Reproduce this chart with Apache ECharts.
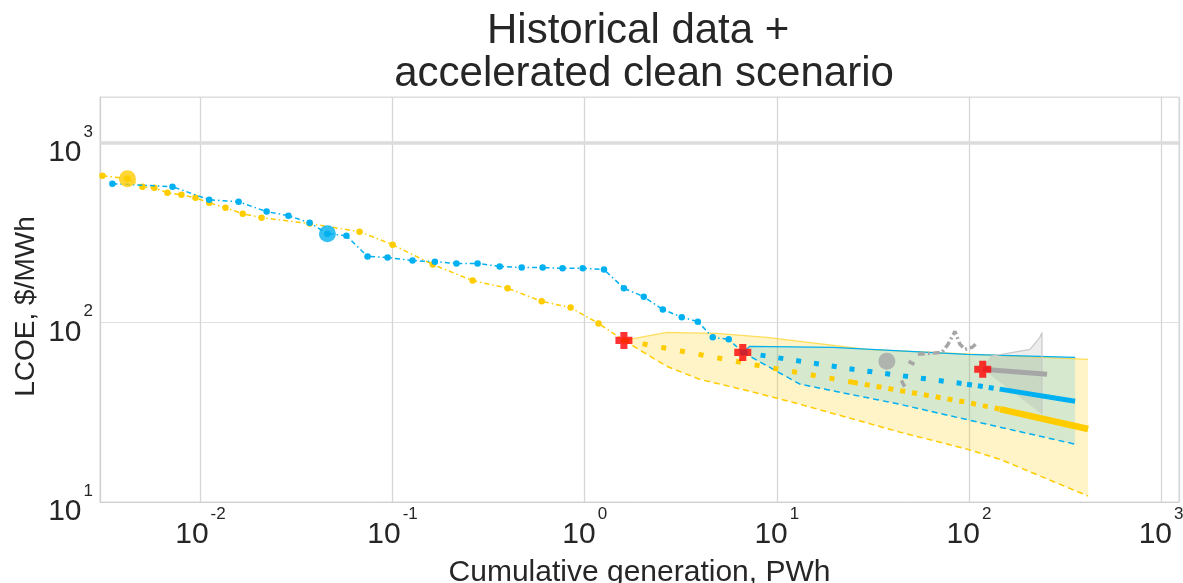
<!DOCTYPE html>
<html><head><meta charset="utf-8">
<script src="https://cdn.jsdelivr.net/npm/echarts@6/dist/echarts.min.js"></script>
<style>html,body{margin:0;padding:0;background:#fff}#c{width:1183px;height:583px}</style>
</head><body><div id="c"></div>
<script>
// ---- Historical data ----
const histYellowX = [0.00309, 0.00417, 0.00499, 0.00575, 0.00673, 0.00796, 0.00942, 0.0111, 0.0135, 0.0166, 0.0208, 0.0370, 0.0673, 0.100, 0.162, 0.261, 0.397, 0.597, 0.845, 1.18, 1.60];
const histYellowY = [656, 631, 570, 562, 527, 514, 494, 464, 435, 403, 383, 355, 320, 271, 210, 171, 155, 131, 121, 98.7, 79.4];
const histBlueX = [0.00348, 0.00715, 0.0111, 0.0158, 0.0221, 0.0287, 0.0370, 0.0458, 0.0575, 0.0741, 0.0942, 0.127, 0.166, 0.215, 0.277, 0.361, 0.470, 0.604, 0.767, 0.977, 1.26, 1.60, 2.03, 2.55, 3.20, 3.88, 4.64, 5.62, 6.65];
const histBlueY = [592, 570, 482, 470, 414, 393, 359, 312, 304, 233, 230, 221, 218, 213, 213, 205, 202, 202, 200, 200, 197, 155, 139, 118, 107, 101, 82.6, 80.5, 68.1];
const startX = [0.00417, 0.0458, 37.4];
const startY = [631, 312, 60.7];
const startColors = ['#FFCC00', '#00B0F0', '#A6A6A6'];
// gray historical pieces
const grayZigX = [54.2, 72.3, 77.8, 84.6, 89.8, 95.3, 104, 111];
const grayZigY = [66.4, 68.1, 75.5, 89.1, 75.5, 70.8, 72.7, 77.4];
const grayDashX = [48.5, 52.0, null, 44.5, 46.5];
const grayDashY = [60.7, 58.4, null, 47.5, 43.5];
const grayThickX = [118, 255];
const grayThickY = [54.8, 51.4];
const grayBandX = [118, 129, 208, 234, 240, 240];
const grayBandY = [54.8, 64.7, 70.8, 82.6, 88.0, 30.8];
// ---- Scenario ----
const redX = [1.60, 6.65, 118];
const redY = [79.4, 68.1, 54.8];
const medYellowX = [1.60, 7.41, 24.9, 97.7, 145, 417];
const medYellowY = [79.4, 58.4, 46.4, 35.9, 32.9, 25.5];
const medBlueX = [6.65, 24.9, 97.7, 145, 357];
const medBlueY = [68.1, 54.8, 45.3, 42.5, 36.4];
const bandYUpperX = [1.60, 2.67, 4.87, 8.87, 29.4, 417];
const bandYUpperY = [79.4, 88.0, 86.9, 82.6, 70.8, 62.3];
const bandYLowerX = [1.60, 2.67, 3.97, 7.23, 13.2, 43.7, 97.7, 145, 417];
const bandYLowerY = [79.4, 57.0, 48.2, 41.4, 35.0, 24.5, 19.7, 17.3, 10.8];
const bandBUpperX = [6.65, 7.23, 19.6, 97.7, 357];
const bandBUpperY = [68.1, 73.6, 72.7, 66.4, 63.9];
const bandBLowerX = [6.65, 13.2, 43.7, 145, 357];
const bandBLowerY = [68.1, 45.3, 35.0, 26.1, 21.0];

const YEL = '#FFCC00', BLU = '#00B0F0', GRY = '#A6A6A6';
const FONT = 'Liberation Sans, Arial, sans-serif';
const pairs = (xs, ys) => xs.map((x, i) => (x === null ? [null, null] : [x, ys[i]]));
const seg = (xs, ys, a, b) => pairs(xs.slice(a, b + 1), ys.slice(a, b + 1));

function polygonSeries(xs, ys, fill, z) {
  const data = pairs(xs, ys);
  return {
    type: 'custom', coordinateSystem: 'cartesian2d', z: z, silent: true, clip: true,
    data: data,
    renderItem: function (params, api) {
      if (params.dataIndex !== 0) return null;
      const pts = data.map(p => api.coord(p));
      return { type: 'polygon', shape: { points: pts }, style: { fill: fill } };
    }
  };
}
function lineSeries(data, color, width, type, z, extra) {
  return Object.assign({
    type: 'line', data: data, z: z, silent: true, showSymbol: false, symbol: 'none',
    lineStyle: { color: color, width: width, type: type, cap: 'butt' }, connectNulls: false
  }, extra || {});
}
const bandYPoly = [bandYUpperX.concat(bandYLowerX.slice().reverse()), bandYUpperY.concat(bandYLowerY.slice().reverse())];
const bandBPoly = [bandBUpperX.concat(bandBLowerX.slice().reverse()), bandBUpperY.concat(bandBLowerY.slice().reverse())];

const isDecade = v => Math.abs(Math.log10(v) - Math.round(Math.log10(v))) < 1e-6;
const labelFmt = v => isDecade(v) ? '{b|10}{e|' + Math.round(Math.log10(v)) + '}' : '';
const labelRich = {
  b: { fontSize: 30, lineHeight: 30, fontFamily: FONT, color: '#262626', padding: [20, 0, 0, 0] },
  e: { fontSize: 17, lineHeight: 17, fontFamily: FONT, color: '#262626', padding: [2, 0, 24, 2] }
};

const chart = echarts.init(document.getElementById('c'), null, { renderer: 'canvas' });
chart.setOption({
  animation: false,
  backgroundColor: '#fff',
  title: {
    text: 'Historical data + \naccelerated clean scenario',
    left: 639, top: 5, textAlign: 'center',
    textStyle: { fontFamily: FONT, fontSize: 42, lineHeight: 43, fontWeight: 'normal', color: '#262626' }
  },
  grid: { left: 100, right: 4, top: 97, bottom: 81, show: true, borderColor: '#d9d9d9', borderWidth: 1,
    containLabel: false, outerBoundsMode: 'none' },
  xAxis: {
    type: 'log', min: 0.003, max: 1240,
    name: 'Cumulative generation, PWh', nameLocation: 'middle', nameGap: 56,
    nameTextStyle: { fontFamily: FONT, fontSize: 30, color: '#262626' },
    axisLine: { lineStyle: { color: '#d0d0d0' } },
    axisTick: { show: false },
    axisLabel: { formatter: labelFmt, rich: labelRich, margin: 8, showMinLabel: false, showMaxLabel: false },
    splitLine: { show: true, lineStyle: { color: '#d6d6d6', width: 1.3 } }
  },
  yAxis: {
    type: 'log', min: 10, max: 1800,
    name: 'LCOE, $/MWh', nameLocation: 'middle', nameGap: 60, nameRotate: 90, nameMoveOverlap: false,
    nameTextStyle: { fontFamily: FONT, fontSize: 28, color: '#262626', padding: [0, 14, 0, 0] },
    axisLine: { show: true, lineStyle: { color: '#d0d0d0' } },
    axisTick: { show: false },
    axisLabel: { formatter: labelFmt, rich: labelRich, margin: 7, showMinLabel: true, showMaxLabel: false },
    splitLine: { show: true, lineStyle: { color: '#e0e0e0', width: 1.2 } }
  },
  series: [
    polygonSeries(bandYPoly[0], bandYPoly[1], 'rgba(255,204,0,0.22)', 1),
    polygonSeries(bandBPoly[0], bandBPoly[1], 'rgba(0,176,240,0.16)', 2),
    polygonSeries(grayBandX, grayBandY, 'rgba(110,110,110,0.12)', 3),
    lineSeries(pairs(bandYUpperX, bandYUpperY), 'rgba(255,204,0,0.6)', 1.2, 'solid', 4, {
      markLine: { silent: true, symbol: 'none', label: { show: false },
        lineStyle: { color: '#dcdcdc', width: 3.5, type: 'solid' }, data: [{ yAxis: 1000 }] }
    }),
    lineSeries(pairs(bandYLowerX, bandYLowerY), YEL, 1.5, [6, 4], 4),
    lineSeries(pairs(bandBUpperX, bandBUpperY), BLU, 1.2, 'solid', 4),
    lineSeries(pairs(bandBLowerX, bandBLowerY), BLU, 1.5, [6, 4], 4),
    // gray historical pieces
    lineSeries(pairs(grayBandX.slice(1), grayBandY.slice(1)), '#C8C8C8', 1.2, 'solid', 5),
    lineSeries(pairs(grayZigX, grayZigY), GRY, 3.5, [7, 3, 2, 3], 5),
    lineSeries(pairs(grayDashX, grayDashY), GRY, 3.5, [7, 4], 5),
    lineSeries(pairs(grayThickX, grayThickY), GRY, 5, 'solid', 6),
    // medians
    lineSeries(seg(medYellowX, medYellowY, 0, 2), YEL, 5, [5, 14], 6),
    lineSeries(seg(medYellowX, medYellowY, 2, 4), YEL, 5, [5, 7], 6),
    lineSeries(seg(medYellowX, medYellowY, 4, 5), YEL, 6.5, 'solid', 6),
    lineSeries(seg(medBlueX, medBlueY, 0, 2), BLU, 5, [5, 13], 7),
    lineSeries(seg(medBlueX, medBlueY, 2, 3), BLU, 5, [5, 6], 7),
    lineSeries(seg(medBlueX, medBlueY, 3, 4), BLU, 5, 'solid', 7),
    // historical lines
    {
      type: 'line', data: pairs(histYellowX, histYellowY), z: 8, silent: true,
      symbol: 'circle', symbolSize: 6.5, showSymbol: true,
      itemStyle: { color: YEL }, lineStyle: { color: YEL, width: 1.5, type: [5, 3, 1.5, 3] }
    },
    {
      type: 'line', data: pairs(histBlueX, histBlueY), z: 9, silent: true,
      symbol: 'circle', symbolSize: 6.5, showSymbol: true,
      itemStyle: { color: BLU }, lineStyle: { color: BLU, width: 1.5, type: [5, 3, 1.5, 3] }
    },
    {
      type: 'scatter', z: 10, silent: true, symbol: 'circle', symbolSize: 17,
      data: startX.map((x, i) => ({ value: [x, startY[i]], itemStyle: { color: startColors[i] } }))
    },
    {
      type: 'scatter', z: 11, silent: true,
      symbol: 'path://M3.5,0H8.5V3.5H12V8.5H8.5V12H3.5V8.5H0V3.5H3.5Z', symbolSize: 17,
      itemStyle: { color: '#FF0000' },
      data: pairs(redX, redY)
    }
  ]
});
</script></body></html>
